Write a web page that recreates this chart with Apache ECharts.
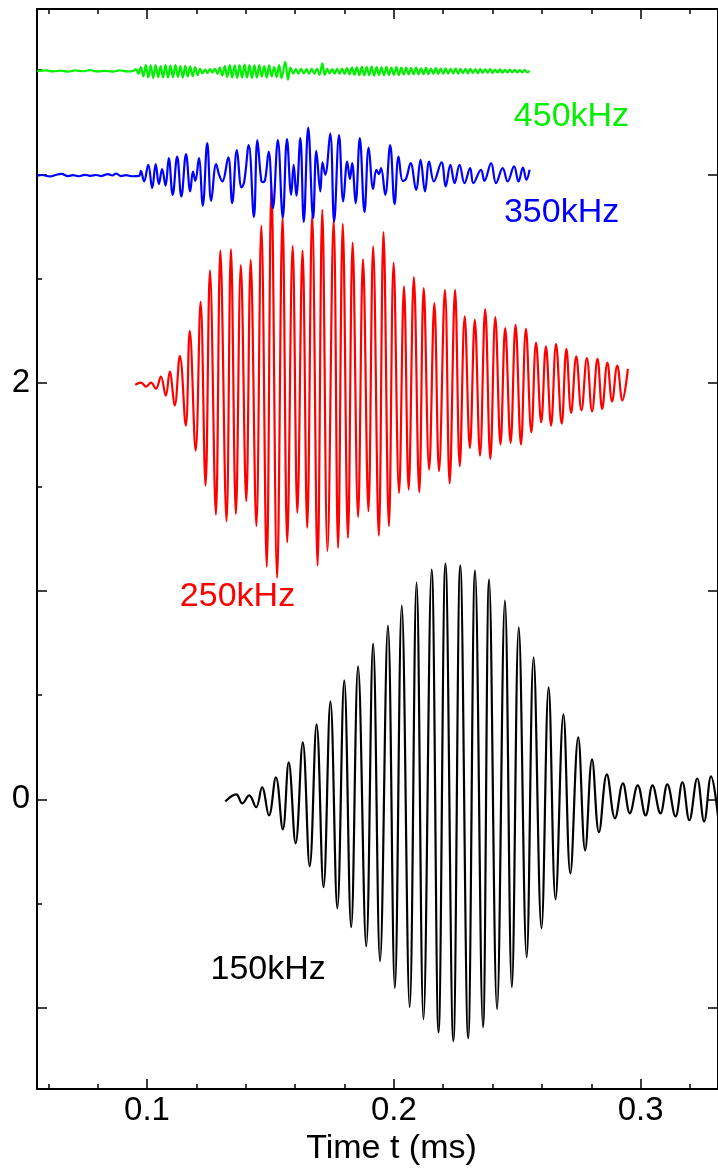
<!DOCTYPE html>
<html>
<head>
<meta charset="utf-8">
<script src="https://cdn.jsdelivr.net/npm/echarts@6/dist/echarts.min.js"></script>
<style>
html,body{margin:0;padding:0;background:#fff;}
#chart{width:718px;height:1171px;}
</style>
</head>
<body>
<div id="chart"></div>
<script>
// ---- data (time in ms, amplitude in chart units) ----
const xMajorTicks = [0.1, 0.2, 0.3];
const xMinorTicks = [0.06, 0.08, 0.12, 0.14, 0.16, 0.18, 0.22, 0.24, 0.26, 0.28, 0.32];
const yMajorTicks = [-1, 0, 1, 2, 3];
const yMinorTicks = [-0.5, 0.5, 1.5, 2.5, 3.5];
const yTickLabels = [0, 2];
const seriesNames = ['150kHz', '250kHz', '350kHz', '450kHz'];

const wave150 = [
[0.1317,-0.01],[0.1361,0.024],[0.1386,-0.019],[0.1414,0.019],[0.1442,-0.038],[0.1466,0.058],
[0.1494,-0.077],[0.1522,0.106],[0.1550,-0.144],[0.1574,0.177],[0.1602,-0.211],[0.1631,0.273],
[0.1659,-0.321],[0.1687,0.36],[0.1715,-0.422],[0.1743,0.47],[0.1771,-0.523],[0.1799,0.571],
[0.1827,-0.614],[0.1855,0.638],[0.1888,-0.705],[0.1916,0.748],[0.1944,-0.777],[0.1976,0.834],
[0.2004,-0.906],[0.2032,0.93],[0.2064,-0.998],[0.2092,1.041],[0.2120,-1.055],[0.2153,1.103],
[0.2181,-1.118],[0.2209,1.132],[0.2241,-1.161],[0.2269,1.122],[0.2301,-1.146],[0.2329,1.098],
[0.2361,-1.094],[0.2386,1.055],[0.2418,-1.007],[0.2450,0.954],[0.2478,-0.902],[0.2506,0.825],
[0.2538,-0.758],[0.2566,0.681],[0.2598,-0.619],[0.2627,0.537],[0.2655,-0.48],[0.2687,0.408],
[0.2715,-0.355],[0.2747,0.297],[0.2775,-0.245],[0.2803,0.192],[0.2831,-0.158],[0.2863,0.12],
[0.2896,-0.091],[0.2928,0.077],[0.2956,-0.067],[0.2988,0.067],[0.3020,-0.077],[0.3048,0.067],
[0.3080,-0.067],[0.3108,0.072],[0.3141,-0.082],[0.3169,0.082],[0.3197,-0.10],[0.3229,0.10],
[0.3257,-0.106],[0.3285,0.11],[0.3315,-0.10]
];

const wave250 = [
[0.0952,1.990],[0.0976,2.000],[0.0996,1.981],[0.1016,2.000],[0.1036,1.971],[0.1056,2.029],
[0.1076,1.938],[0.1092,2.053],[0.1112,1.890],[0.1133,2.129],[0.1157,1.794],[0.1173,2.249],
[0.1197,1.674],[0.1217,2.388],[0.1237,1.506],[0.1255,2.539],[0.1279,1.367],[0.1297,2.635],
[0.1322,1.335],[0.1340,2.641],[0.1360,1.370],[0.1380,2.565],[0.1402,1.431],[0.1420,2.590],
[0.1443,1.311],[0.1463,2.754],[0.1485,1.116],[0.1504,2.940],[0.1527,1.063],[0.1549,2.796],
[0.1568,1.234],[0.1590,2.657],[0.1609,1.375],[0.1630,2.635],[0.1649,1.303],[0.1669,2.806],
[0.1691,1.122],[0.1710,2.830],[0.1731,1.191],[0.1756,2.782],[0.1774,1.207],[0.1793,2.763],
[0.1814,1.255],[0.1833,2.673],[0.1855,1.356],[0.1875,2.593],[0.1897,1.383],[0.1916,2.654],
[0.1939,1.266],[0.1958,2.723],[0.1980,1.311],[0.1999,2.577],[0.2021,1.471],[0.2041,2.462],
[0.2060,1.487],[0.2081,2.507],[0.2103,1.474],[0.2121,2.454],[0.2143,1.583],[0.2164,2.382],
[0.2183,1.575],[0.2207,2.446],[0.2226,1.516],[0.2248,2.446],[0.2267,1.599],[0.2287,2.318],
[0.2308,1.687],[0.2328,2.302],[0.2349,1.650],[0.2370,2.353],[0.2391,1.634],[0.2411,2.315],
[0.2432,1.703],[0.2451,2.262],[0.2473,1.711],[0.2493,2.278],[0.2515,1.703],[0.2535,2.258],
[0.2557,1.762],[0.2576,2.193],[0.2597,1.810],[0.2616,2.174],[0.2637,1.794],[0.2657,2.187],
[0.2680,1.803],[0.2699,2.162],[0.2718,1.855],[0.2739,2.126],[0.2760,1.867],[0.2782,2.118],
[0.2803,1.862],[0.2825,2.114],[0.2844,1.874],[0.2865,2.097],[0.2884,1.910],[0.2905,2.082],
[0.2926,1.915],[0.2948,2.066]
];

const wave350 = [
[0.0555,2.994],[0.0575,2.997],[0.0606,2.990],[0.0630,2.997],[0.0653,3.002],[0.0680,2.992],
[0.0700,2.996],[0.0725,2.991],[0.0747,2.998],[0.0770,2.993],[0.0794,2.997],[0.0815,2.992],
[0.0841,3.001],[0.0860,2.995],[0.0874,3.004],[0.0895,2.992],[0.0914,2.996],[0.0940,2.991],
[0.0968,2.993],
[0.0975,3.017],[0.0988,2.966],[0.1005,3.046],[0.1021,2.934],[0.1035,3.049],[0.1048,2.953],
[0.1061,3.025],[0.1075,2.946],[0.1088,3.078],[0.1104,2.902],[0.1122,3.085],[0.1139,2.894],
[0.1158,3.097],[0.1175,2.918],[0.1186,3.013],[0.1196,2.969],[0.1210,3.078],[0.1226,2.850],
[0.1244,3.150],[0.1260,2.873],[0.1280,3.049],[0.1292,2.998],[0.1305,2.966],[0.1329,3.082],
[0.1345,2.862],[0.1364,3.116],[0.1383,2.937],[0.1394,2.966],[0.1412,3.141],[0.1433,2.795],
[0.1447,3.164],[0.1463,2.969],[0.1471,2.963],[0.1479,2.978],[0.1493,3.109],[0.1510,2.838],
[0.1530,3.165],[0.1550,2.793],[0.1567,3.169],[0.1584,2.902],[0.1594,3.046],[0.1605,2.898],
[0.1621,3.174],[0.1635,2.771],[0.1653,3.225],[0.1673,2.790],[0.1686,3.113],[0.1702,2.918],
[0.1711,3.058],[0.1722,2.998],[0.1742,3.196],[0.1758,2.774],[0.1778,3.189],[0.1795,2.870],
[0.1811,3.061],[0.1822,2.978],[0.1831,3.054],[0.1845,2.862],[0.1862,3.174],[0.1881,2.819],
[0.1898,3.129],[0.1916,2.930],[0.1929,3.022],[0.1939,3.001],[0.1948,3.030],[0.1965,2.902],
[0.1985,3.141],[0.2003,2.857],[0.2019,3.085],[0.2036,2.969],[0.2049,2.978],[0.2068,3.054],
[0.2090,2.926],[0.2108,3.070],[0.2126,2.918],[0.2143,3.061],[0.2162,2.966],[0.2193,3.058],
[0.2210,2.942],[0.2229,3.046],[0.2246,2.958],[0.2266,3.046],[0.2286,2.958],[0.2309,3.030],
[0.2322,2.958],[0.2353,3.022],[0.2367,2.969],[0.2394,3.054],[0.2414,2.958],[0.2441,3.030],
[0.2461,2.966],[0.2487,3.038],[0.2505,2.966],[0.2523,3.033],[0.2537,2.974],[0.2550,3.022]
];

const wave450 = [
[0.0555,3.496],[0.0590,3.499],[0.0620,3.494],[0.0650,3.498],[0.0680,3.493],[0.0710,3.499],
[0.0740,3.495],[0.0770,3.500],[0.0800,3.494],[0.0830,3.497],[0.0860,3.493],[0.0890,3.499],
[0.0920,3.494],[0.0945,3.497],
[0.0955,3.505],[0.0965,3.483],[0.0975,3.515],[0.0985,3.470],[0.0995,3.525],[0.1005,3.465],
[0.1015,3.523],[0.1025,3.463],[0.1035,3.525],[0.1045,3.467],[0.1055,3.520],[0.1065,3.465],
[0.1075,3.525],[0.1085,3.465],[0.1095,3.522],[0.1105,3.467],[0.1115,3.525],[0.1125,3.468],
[0.1135,3.520],[0.1145,3.465],[0.1155,3.521],[0.1165,3.470],[0.1175,3.517],[0.1185,3.471],
[0.1195,3.515],[0.1205,3.477],[0.1215,3.507],[0.1225,3.485],[0.1235,3.503],[0.1245,3.487],
[0.1255,3.505],[0.1265,3.489],[0.1275,3.507],[0.1285,3.483],[0.1295,3.513],[0.1305,3.475],
[0.1315,3.520],[0.1325,3.467],[0.1335,3.525],[0.1345,3.465],[0.1355,3.523],[0.1365,3.463],
[0.1375,3.525],[0.1385,3.465],[0.1395,3.527],[0.1405,3.465],[0.1415,3.525],[0.1425,3.463],
[0.1435,3.523],[0.1445,3.465],[0.1455,3.525],[0.1465,3.469],[0.1475,3.520],[0.1485,3.465],
[0.1495,3.523],[0.1505,3.470],[0.1515,3.515],[0.1525,3.467],[0.1535,3.525],[0.1545,3.462],
[0.1560,3.540],[0.1571,3.455],[0.1581,3.512],[0.1592,3.484],[0.1603,3.505],[0.1613,3.484],
[0.1624,3.506],[0.1635,3.485],[0.1646,3.505],[0.1656,3.483],[0.1667,3.506],[0.1678,3.484],
[0.1688,3.507],[0.1699,3.478],[0.1710,3.533],[0.1720,3.477],[0.1730,3.506],[0.1740,3.485],
[0.1750,3.505],[0.1760,3.484],[0.1770,3.507],[0.1780,3.483],[0.1790,3.508],[0.1800,3.482],
[0.1810,3.510],[0.1820,3.480],[0.1830,3.512],[0.1840,3.478],[0.1850,3.514],[0.1860,3.476],
[0.1870,3.516],[0.1880,3.475],[0.1890,3.515],[0.1900,3.476],[0.1910,3.517],[0.1920,3.474],
[0.1930,3.515],[0.1940,3.477],[0.1950,3.514],[0.1960,3.476],[0.1970,3.516],[0.1980,3.477],
[0.1990,3.513],[0.2000,3.478],[0.2010,3.515],[0.2020,3.477],[0.2030,3.512],[0.2040,3.479],
[0.2050,3.513],[0.2060,3.480],[0.2070,3.510],[0.2080,3.481],[0.2090,3.512],[0.2100,3.480],
[0.2110,3.509],[0.2120,3.482],[0.2130,3.511],[0.2140,3.481],[0.2150,3.508],[0.2160,3.483],
[0.2170,3.510],[0.2180,3.482],[0.2190,3.508],[0.2200,3.484],[0.2210,3.509],[0.2220,3.483],
[0.2230,3.507],[0.2240,3.485],[0.2250,3.508],[0.2260,3.484],[0.2270,3.506],[0.2280,3.486],
[0.2290,3.507],[0.2300,3.485],[0.2310,3.506],[0.2320,3.487],[0.2330,3.505],[0.2340,3.486],
[0.2350,3.506],[0.2360,3.487],[0.2370,3.504],[0.2380,3.488],[0.2390,3.505],[0.2400,3.487],
[0.2410,3.503],[0.2420,3.489],[0.2430,3.504],[0.2440,3.488],[0.2450,3.502],[0.2460,3.489],
[0.2470,3.503],[0.2480,3.490],[0.2490,3.502],[0.2500,3.489],[0.2510,3.501],[0.2520,3.490],
[0.2530,3.502],[0.2540,3.490],[0.2550,3.497]
];

// ---- layout / style ----
const FONT = "'Liberation Sans', Arial, sans-serif";
const COLORS = { '150kHz': '#000000', '250kHz': '#ff0000', '350kHz': '#0000ff', '450kHz': '#00f000' };
const X_MIN = 0.05542, X_MAX = 0.33132;
const Y_MIN = -1.3909, Y_MAX = 3.7938;
const labelAnchors = {
  '450kHz': [0.2486, 3.276],
  '350kHz': [0.2446, 2.815],
  '250kHz': [0.1133, 0.974],
  '150kHz': [0.1257, -0.815]
};

const chart = echarts.init(document.getElementById('chart'), null, { renderer: 'canvas' });

function xAx(position, ticks, len, showLine, extra) {
  return Object.assign({
    type: 'value', position: position, min: X_MIN, max: X_MAX,
    axisLine: { show: showLine, onZero: false, lineStyle: { color: '#000', width: 2 } },
    axisTick: { show: true, inside: true, length: len, customValues: ticks, lineStyle: { color: '#000', width: 1.5 } },
    axisLabel: { show: false },
    splitLine: { show: false }
  }, extra || {});
}
function yAx(position, ticks, len, showLine, extra) {
  return Object.assign({
    type: 'value', position: position, min: Y_MIN, max: Y_MAX,
    axisLine: { show: showLine, onZero: false, lineStyle: { color: '#000', width: 2 } },
    axisTick: { show: true, inside: true, length: len, customValues: ticks, lineStyle: { color: '#000', width: 1.5 } },
    axisLabel: { show: false },
    splitLine: { show: false }
  }, extra || {});
}

const waves = { '150kHz': wave150, '250kHz': wave250, '350kHz': wave350, '450kHz': wave450 };

chart.setOption({
  animation: false,
  backgroundColor: '#fff',
  grid: { left: 37, top: 9, width: 687, height: 1081, containLabel: false },
  xAxis: [
    xAx('bottom', xMajorTicks, 10, true, {
      axisLabel: { show: true, customValues: xMajorTicks, fontSize: 33, color: '#000', fontFamily: FONT, margin: 5,
                   formatter: function (v) { return v.toFixed(1); } },
      name: 'Time t (ms)', nameLocation: 'middle', nameGap: 36,
      nameTextStyle: { fontSize: 34, color: '#000', fontFamily: FONT, padding: [0, 0, 0, 28] }
    }),
    xAx('bottom', xMinorTicks, 5, false),
    xAx('top', xMajorTicks, 10, true),
    xAx('top', xMinorTicks, 5, false)
  ],
  yAxis: [
    yAx('left', yMajorTicks, 10, true, {
      axisLabel: { show: true, customValues: yTickLabels, fontSize: 33, color: '#000', fontFamily: FONT, margin: 7 }
    }),
    yAx('left', yMinorTicks, 5, false),
    yAx('right', yMajorTicks, 10, true)
  ],
  series: seriesNames.map(function (name) {
    return {
      name: name, type: 'line', xAxisIndex: 0, yAxisIndex: 0,
      data: waves[name], showSymbol: false, smooth: 0.4,
      lineStyle: { color: COLORS[name], width: 2.2 },
      clip: true, silent: true
    };
  })
});

const graphics = seriesNames.map(function (name) {
  const p = chart.convertToPixel({ xAxisIndex: 0, yAxisIndex: 0 }, labelAnchors[name]);
  return {
    type: 'text', x: p[0], y: p[1],
    style: { text: name, fill: COLORS[name], font: '34px ' + FONT, textAlign: 'left', textVerticalAlign: 'middle' }
  };
});
chart.setOption({ graphic: graphics });
</script>
</body>
</html>
